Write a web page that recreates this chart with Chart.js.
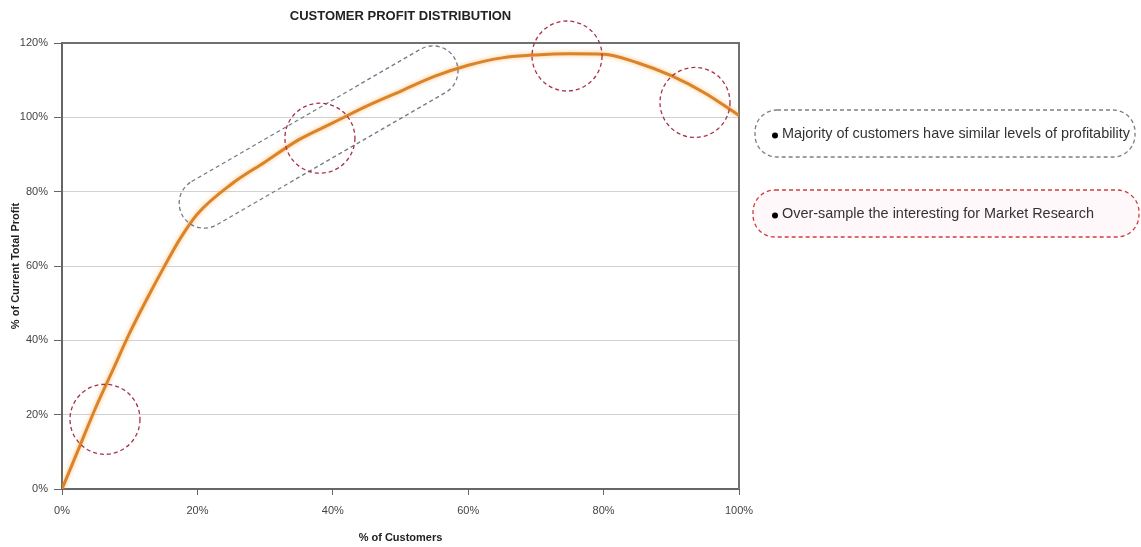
<!DOCTYPE html>
<html>
<head>
<meta charset="utf-8">
<script src="https://cdn.jsdelivr.net/npm/chart.js@4/dist/chart.umd.min.js"></script>
<style>
  html, body { margin: 0; padding: 0; background: #fff; }
  #wrap { width: 1141px; height: 547px; }
</style>
</head>
<body>
<div id="wrap"><canvas id="c" width="1141" height="547"></canvas></div>
<script>
// Share of customers (x) against cumulative share of current total profit (y), in %
const customerShare = [0, 2.5, 5, 7.5, 10, 12.5, 15, 17.5, 20, 25, 30, 35, 40, 45, 50, 55, 60, 65, 70, 75, 80, 85, 90, 95, 100];
const profitShare   = [0, 11, 22, 32, 42, 51, 59.5, 67.5, 74, 82, 88, 94, 98.5, 103, 107, 111, 114, 116, 116.8, 117.1, 117, 114.7, 111.2, 106.5, 100.5];

const xTicks = [0, 20, 40, 60, 80, 100];
const yTicks = [0, 20, 40, 60, 80, 100, 120];

const chartTitle = 'CUSTOMER PROFIT DISTRIBUTION';
const xTitle = '% of Customers';
const yTitle = '% of Current Total Profit';
const notes = [
  'Majority of customers have similar levels of profitability',
  'Over-sample the interesting for Market Research'
];

// Callout shapes, anchored in data units: red rings on segments worth sampling,
// and a grey band around the flat-profit middle of the curve.
const rings = [[6.35, 18.75], [38.1, 94.4], [74.6, 116.5], [93.5, 104.0]];
const band = [[21.0, 76.9], [54.8, 112.5]];

const FONT = '"Liberation Sans", Arial, sans-serif';

function roundedBox(ctx, x, y, w, h, r) {
  ctx.beginPath();
  ctx.moveTo(x + r, y);
  ctx.lineTo(x + w - r, y);
  ctx.arc(x + w - r, y + r, r, -Math.PI / 2, 0);
  ctx.lineTo(x + w, y + h - r);
  ctx.arc(x + w - r, y + h - r, r, 0, Math.PI / 2);
  ctx.lineTo(x + r, y + h);
  ctx.arc(x + r, y + h - r, r, Math.PI / 2, Math.PI);
  ctx.lineTo(x, y + r);
  ctx.arc(x + r, y + r, r, Math.PI, Math.PI * 1.5);
  ctx.closePath();
}

const framePlugin = {
  id: 'frame',
  beforeDatasetsDraw(chart) {
    const {ctx, chartArea: a} = chart;
    ctx.save();
    ctx.strokeStyle = '#707070';
    ctx.lineWidth = 2;
    ctx.beginPath();
    ctx.moveTo(a.left, a.top);
    ctx.lineTo(a.right, a.top);
    ctx.lineTo(a.right, a.bottom);
    ctx.stroke();
    ctx.restore();
  }
};

const glowPlugin = {
  id: 'glow',
  beforeDatasetDraw(chart) {
    const ctx = chart.ctx;
    ctx.save();
    ctx.shadowColor = 'rgba(255, 170, 70, 0.75)';
    ctx.shadowBlur = 4;
  },
  afterDatasetDraw(chart) {
    chart.ctx.restore();
  }
};

const calloutPlugin = {
  id: 'callouts',
  afterDraw(chart) {
    const {ctx, chartArea: a, scales: {x, y}} = chart;
    ctx.save();

    // chart heading
    ctx.fillStyle = '#222';
    ctx.font = 'bold 13px ' + FONT;
    ctx.textAlign = 'center';
    ctx.textBaseline = 'middle';
    ctx.fillText(chartTitle, (a.left + a.right) / 2, 16.5);

    ctx.lineWidth = 1.3;
    ctx.setLineDash([4, 3]);

    // grey band
    const p1 = {x: x.getPixelForValue(band[0][0]), y: y.getPixelForValue(band[0][1])};
    const p2 = {x: x.getPixelForValue(band[1][0]), y: y.getPixelForValue(band[1][1])};
    const ang = Math.atan2(p2.y - p1.y, p2.x - p1.x);
    const len = Math.hypot(p2.x - p1.x, p2.y - p1.y);
    const h = 25;
    ctx.save();
    ctx.translate(p1.x, p1.y);
    ctx.rotate(ang);
    ctx.beginPath();
    ctx.moveTo(0, -h);
    ctx.lineTo(len, -h);
    ctx.arc(len, 0, h, -Math.PI / 2, Math.PI / 2);
    ctx.lineTo(0, h);
    ctx.arc(0, 0, h, Math.PI / 2, Math.PI * 1.5);
    ctx.closePath();
    ctx.strokeStyle = '#747b86';
    ctx.stroke();
    ctx.restore();

    // red rings
    ctx.strokeStyle = '#a83048';
    rings.forEach(([cx, cy]) => {
      ctx.beginPath();
      ctx.arc(x.getPixelForValue(cx), y.getPixelForValue(cy), 35, 0, Math.PI * 2);
      ctx.stroke();
    });

    // key boxes on the right
    roundedBox(ctx, 755, 110, 380, 47, 22);
    ctx.strokeStyle = '#7a7f88';
    ctx.stroke();

    roundedBox(ctx, 753, 190, 386, 47, 22);
    ctx.fillStyle = 'rgba(255, 236, 240, 0.35)';
    ctx.fill();
    ctx.strokeStyle = '#d23c3c';
    ctx.stroke();

    ctx.setLineDash([]);
    ctx.fillStyle = '#000';
    [135.5, 215.5].forEach(by => {
      ctx.beginPath();
      ctx.arc(775, by, 3, 0, Math.PI * 2);
      ctx.fill();
    });

    ctx.font = '15px "Liberation Sans Narrow", "Arial Narrow", ' + FONT;
    ctx.textAlign = 'left';
    ctx.fillStyle = '#333';
    const w0 = ctx.measureText(notes[0]).width;
    const squeeze = Math.min(1, 348 / w0);
    ctx.fillText(notes[0], 782, 134, w0 * squeeze);
    const w1 = ctx.measureText(notes[1]).width;
    ctx.fillText(notes[1], 782, 214, w1 * squeeze);

    ctx.restore();
  }
};

new Chart(document.getElementById('c'), {
  type: 'line',
  data: {
    datasets: [{
      data: customerShare.map((v, i) => ({x: v, y: profitShare[i]})),
      borderColor: '#d9832a',
      borderWidth: 3,
      pointRadius: 0,
      fill: false,
      cubicInterpolationMode: 'monotone'
    }]
  },
  options: {
    responsive: false,
    animation: false,
    layout: {padding: {top: 43, right: 402, bottom: 0, left: 0}},
    plugins: {legend: {display: false}, tooltip: {enabled: false}, title: {display: false}},
    scales: {
      x: {
        type: 'linear',
        min: 0, max: 100,
        afterBuildTicks: s => { s.ticks = xTicks.map(v => ({value: v})); },
        afterFit: s => { s.height = 58; },
        ticks: {
          callback: v => v + '%',
          color: '#444',
          font: {family: FONT, size: 11},
          padding: 9,
          maxRotation: 0
        },
        grid: {drawOnChartArea: false, drawTicks: true, tickLength: 6, tickColor: '#666'},
        border: {color: '#666', width: 2},
        title: {
          display: true,
          text: xTitle,
          color: '#222',
          font: {family: FONT, size: 11, weight: 'bold'},
          padding: {top: 0, bottom: 2.5}
        }
      },
      y: {
        type: 'linear',
        min: 0, max: 120,
        afterBuildTicks: s => { s.ticks = yTicks.map(v => ({value: v})); },
        afterFit: s => { s.width = 62; },
        ticks: {
          callback: v => v + '%',
          color: '#444',
          font: {family: FONT, size: 11},
          padding: 6
        },
        grid: {color: '#d2d2d2', lineWidth: 1, tickLength: 8, tickColor: '#666'},
        border: {color: '#666', width: 2},
        title: {
          display: true,
          text: yTitle,
          color: '#222',
          font: {family: FONT, size: 11, weight: 'bold'},
          padding: {top: 9.4, bottom: 0}
        }
      }
    }
  },
  plugins: [framePlugin, glowPlugin, calloutPlugin]
});
</script>
</body>
</html>
